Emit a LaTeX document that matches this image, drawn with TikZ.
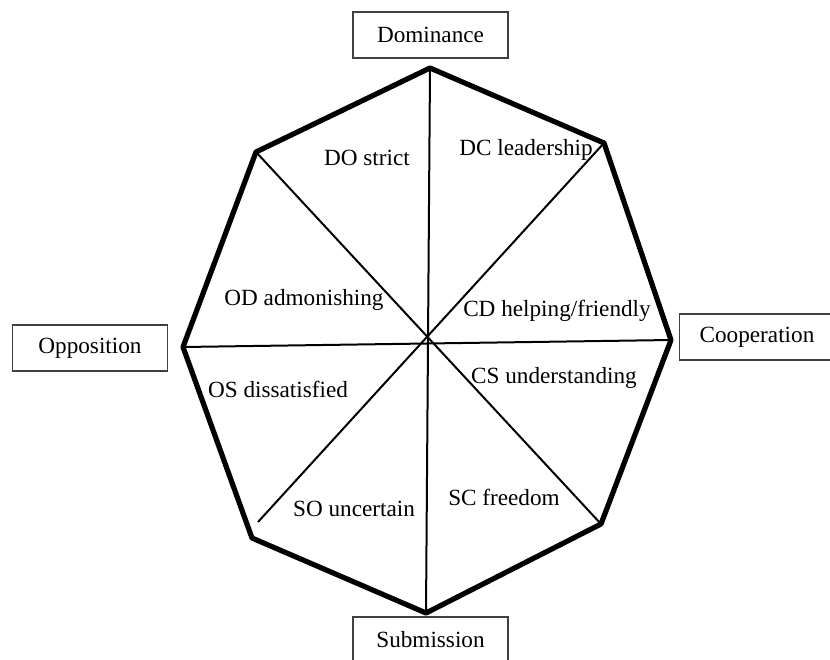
\documentclass[tikz,border=0pt]{standalone}
\usepackage{fontspec}
\setmainfont{Liberation Serif}
\usetikzlibrary{positioning}

\tikzset{
  octa/.style={line width=2.6pt, line join=round},
  spoke/.style={line width=1pt},
  axisbox/.style={draw=black!75, line width=0.75pt, minimum width=77.5pt, minimum height=23pt, inner sep=0pt},
  sector/.style={inner sep=0pt}
}

\begin{document}
\begin{tikzpicture}[x=0.5pt, y=-0.5pt, font=\fontsize{11.6}{14}\selectfont]
    \useasboundingbox (0,0) rectangle (830,659);
    % corners of the octagon
    \coordinate (n)  at (430,68);
    \coordinate (ne) at (604,143);
    \coordinate (e)  at (671,340);
    \coordinate (se) at (601,524);
    \coordinate (s)  at (426,613);
    \coordinate (sw) at (252,538);
    \coordinate (w)  at (183,347);
    \coordinate (nw) at (256,152);
    \coordinate (swend) at (258,522);

    \draw[octa] (n) -- (ne) -- (e) -- (se) -- (s) -- (sw) -- (w) -- (nw) -- cycle;
    \draw[spoke] (n) -- (s);
    \draw[spoke] (w) -- (e);
    \draw[spoke] (nw) -- (se);
    \draw[spoke] (ne) -- (swend);

    % axis labels
    \node[axisbox] (dom) at (430.5,35)  {Dominance};
    \node[axisbox] (coop) at (757,337)  {Cooperation};
    \node[axisbox] (sub) at (430.5,640) {Submission};
    \node[axisbox] (opp) at (90,348)    {Opposition};

    % sectors
    \node[sector] (do) at (367,158) {DO strict};
    \node[sector] (dc) at (526,150) {DC leadership};
    \node[sector] (od) at (304,300) {OD admonishing};
    \node[sector] (cd) at (557,311) {CD helping/friendly};
    \node[sector] (os) at (278,389) {OS dissatisfied};
    \node[sector] (cs) at (554,378) {CS understanding};
    \node[sector] (so) at (354,509) {SO uncertain};
    \node[sector] (sc) at (504,497) {SC freedom};
\end{tikzpicture}
\end{document}
